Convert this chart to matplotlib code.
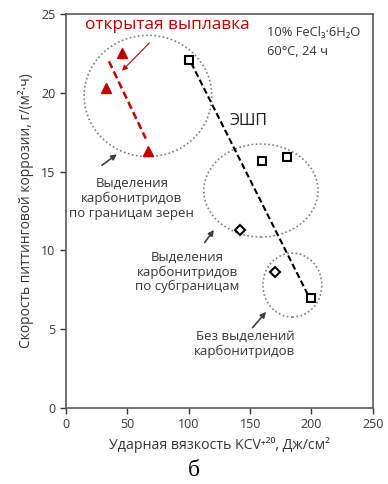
import matplotlib
matplotlib.use("Agg")
import matplotlib.pyplot as plt
from matplotlib.patches import Ellipse

plt.rcParams['font.family'] = ['Open Sans', 'DejaVu Sans']

# открытая выплавка
kcv_open = [46, 33, 67]
rate_open = [22.5, 20.3, 16.3]
# ЭШП
kcv_esr_sq = [100, 160, 180, 200]
rate_esr_sq = [22.1, 15.7, 15.9, 7.0]
kcv_esr_d = [142, 170]
rate_esr_d = [11.3, 8.6]
# линии тренда
trend_open_x = [35, 65]
trend_open_y = [22.0, 17.1]
trend_esr_x = [102, 197]
trend_esr_y = [21.9, 7.2]

xticks = [0, 50, 100, 150, 200, 250]
yticks = [0, 5, 10, 15, 20, 25]

txt = '#363636'
grey = '#7f7f7f'
red = '#c00000'

fig = plt.figure(figsize=(3.88, 4.84), dpi=100)
ax = fig.add_axes([0.170, 0.157, 0.791, 0.814])

ax.plot(trend_open_x, trend_open_y, '--', color=red, lw=1.8, dashes=(3, 1.5))
ax.plot(trend_esr_x, trend_esr_y, '--', color='black', lw=1.5, dashes=(3, 1.5))
ax.plot(kcv_open, rate_open, '^', color=red, ms=7, mec=red)
ax.plot(kcv_esr_sq, rate_esr_sq, 's', mfc='white', mec='black', mew=1.5, ms=6)
ax.plot(kcv_esr_d, rate_esr_d, 'D', mfc='white', mec='black', mew=1.5, ms=5)

# области выделений
for cx, cy, w, h in [(66.8, 19.8, 104, 7.7), (158.8, 13.8, 93, 5.9), (184.4, 7.8, 48, 4.06)]:
    ax.add_patch(Ellipse((cx, cy), w, h, fill=False, ls=(0, (1, 1.5)), ec=grey, lw=1.2))

ax.annotate('открытая выплавка', xy=(45.6, 21.4), xytext=(82.3, 24.3),
            ha='center', va='center', fontsize=12.4, color=red,
            arrowprops=dict(arrowstyle='-|>', color=red, lw=0.8, shrinkA=7, shrinkB=0,
                            mutation_scale=8))
ax.text(163.7, 23.86, '10% FeCl₃·6H₂O', fontsize=9.3, color=txt, va='center')
ax.text(163.7, 22.6, '60°C, 24 ч', fontsize=9.3, color=txt, va='center')
ax.text(133.5, 18.2, 'ЭШП', fontsize=11.5, color='#202020', va='center')

notes = [
    ('Выделения\nкарбонитридов\nпо границам зерен', (53.7, 13.3), (29.3, 15.4), (41.5, 16.1)),
    ('Выделения\nкарбонитридов\nпо субграницам', (99, 8.63), (113, 10.5), (120.5, 11.3)),
    ('Без выделений\nкарбонитридов', (145.8, 4.06), (152, 5.1), (163, 6.1)),
]
for s, pos, tail, head in notes:
    ax.text(pos[0], pos[1], s, ha='center', va='center', fontsize=9.5, color=txt,
            linespacing=1.15)
    ax.annotate('', xy=head, xytext=tail,
                arrowprops=dict(arrowstyle='-|>', color='#404040', lw=1.2, shrinkA=0,
                                shrinkB=0, mutation_scale=8))

ax.set_xlim(0, 250)
ax.set_ylim(0, 25)
ax.set_xticks(xticks)
ax.set_yticks(yticks)
ax.tick_params(labelsize=9, colors=txt, length=4, width=1, direction='out')
for sp in ax.spines.values():
    sp.set_color('#595959')
    sp.set_linewidth(1.2)

ax.set_xlabel('Ударная вязкость KCV⁺²⁰, Дж/см²', fontsize=10.2, color=txt, labelpad=4)
ax.set_ylabel('Скорость питтинговой коррозии, г/(м²·ч)', fontsize=10, color=txt, labelpad=5)

fig.text(0.5, 0.028, 'б', ha='center', va='center', fontsize=17, family='Liberation Serif',
         color='black')

fig.savefig('out.png', dpi=100)
